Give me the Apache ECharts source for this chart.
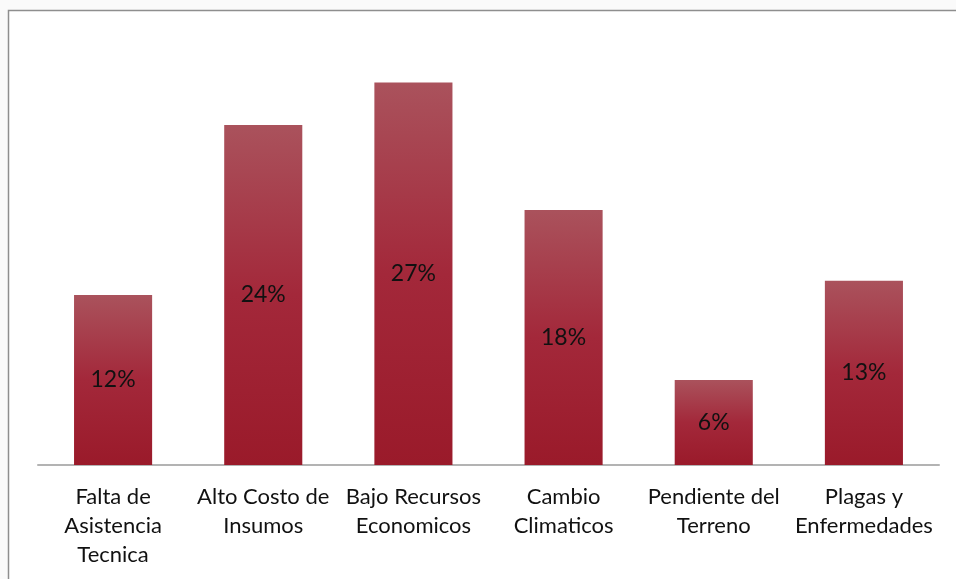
<!DOCTYPE html>
<html><head><meta charset="utf-8">
<script src="https://cdn.jsdelivr.net/npm/echarts@6/dist/echarts.min.js"></script>
<style>html,body{margin:0;padding:0;background:#fafafa;}#c{width:956px;height:579px;}</style>
</head><body><div id="c"></div>
<script>
const categories = ['Falta de\nAsistencia\nTecnica', 'Alto Costo de\nInsumos', 'Bajo Recursos\nEconomicos', 'Cambio\nClimaticos', 'Pendiente del\nTerreno', 'Plagas y\nEnfermedades'];
const values = [12, 24, 27, 18, 6, 13];

const chart = echarts.init(document.getElementById('c'), null, {renderer: 'canvas'});
chart.setOption({
  backgroundColor: '#fafafa',
  animation: false,
  graphic: [{
    type: 'rect', z: -10, silent: true,
    shape: {x: 8.5, y: 10.5, width: 1000, height: 1000},
    style: {fill: '#ffffff', stroke: '#8e8e8e', lineWidth: 1.5}
  }],
  grid: {left: 38, right: 17, top: 40, bottom: 114},
  xAxis: {
    type: 'category', data: categories,
    axisLine: {lineStyle: {color: '#b3b3b3', width: 2}},
    axisTick: {show: false},
    axisLabel: {color: '#111', fontFamily: 'Lato', fontSize: 22, lineHeight: 29, margin: 17, interval: 0}
  },
  yAxis: {type: 'value', min: 0, max: 30, show: false, splitLine: {show: false}},
  series: [{
    type: 'bar', data: values, barWidth: '52%',
    itemStyle: {
      color: new echarts.graphic.LinearGradient(0, 0, 0, 1, [
        {offset: 0, color: '#aa525c'},
        {offset: 0.5, color: '#a3283a'},
        {offset: 1, color: '#9a1a2a'}
      ])
    },
    label: {show: true, position: 'inside', formatter: '{c}%', color: '#111', fontFamily: 'Lato', fontSize: 23}
  }]
});
</script></body></html>
